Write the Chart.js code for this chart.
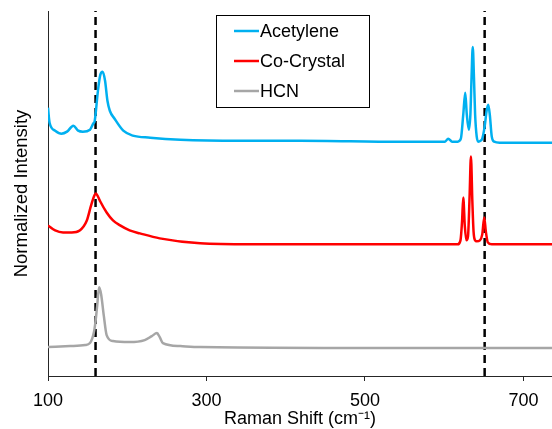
<!DOCTYPE html>
<html>
<head>
<meta charset="utf-8">
<script src="https://cdn.jsdelivr.net/npm/chart.js@4"></script>
<style>
  html, body { margin: 0; padding: 0; background: #fff; }
  #wrap { width: 552px; height: 429px; }
</style>
</head>
<body>
<div id="wrap"><canvas id="ramanChart" width="552" height="429"></canvas></div>
<script>
// spectra (x: Raman shift in cm-1, y: normalized intensity, arbitrary units)
const acetyleneX = [100,102,109,117,124,132,138,144,153,157,159,163,166,169,172,175,178,184,195,207,229,267,342,418,544,582,601,605,610,617,621,624,626.5,628.5,631,633,634.5,636,637.5,639,641,643,646,648,651,653.5,655.5,657.5,660,663,670,736];
const acetyleneY = [269,254,246,243,245,251,246,245,247,253,256,286,302,305,296,276,266,258,246,241,239,237,236,236,235,235,235,238,235,235,238,262,284,262,247,262,300,330,300,262,240,235,236,238,250,266,272,262,240,235,234,234];

const cocrystalX = [100,109,119,130,140,149,154,158,160.5,163,166,174,182,191,203,216,241,292,355,544,617,620.5,622.5,624,626,628,630,632,633.7,635.5,637,639,641,645,648,650.5,652.5,655,660,736];
const cocrystalY = [151,146,144,144,146,156,170,180,183,180,175,164,156,151,146,143,138,133,132,132,132,136,155,179,150,136,140,180,220,175,145,136,135,136,142,159,145,134,132,132];

const hcnX = [100,128,147,153,158,160,162,164.5,167,170.5,174,182,203,222,231,237.5,241,245,267,292,544,736];
const hcnY = [29,30,31,33,44,55,70,89,82,60,41,35,34,36,40,43,39,33,30,29,28,28];

const seriesNames = ["Acetylene", "Co-Crystal", "HCN"];
const seriesColors = ["#00B0F0", "#FF0000", "#A6A6A6"];
const refLines = [160, 651];
const xTicks = [100, 300, 500, 700];

const yMax = 366;

function toPoints(xs, ys) {
    return xs.map(function (x, i) { return { x: x, y: ys[i] }; });
}

const datasets = [
    { label: seriesNames[0], data: toPoints(acetyleneX, acetyleneY), borderColor: seriesColors[0] },
    { label: seriesNames[1], data: toPoints(cocrystalX, cocrystalY), borderColor: seriesColors[1] },
    { label: seriesNames[2], data: toPoints(hcnX, hcnY), borderColor: seriesColors[2] }
].map(function (d) {
    d.borderWidth = 2.5;
    d.pointRadius = 0;
    d.cubicInterpolationMode = "monotone";
    d.fill = false;
    return d;
});

refLines.forEach(function (x) {
    datasets.push({
        label: "",
        data: [{ x: x, y: 0 }, { x: x, y: yMax }],
        borderColor: "#000",
        borderWidth: 2.5,
        borderDash: [8, 5],
        pointRadius: 0
    });
});

// legend box drawn inside the plot area
const boxLegend = {
    id: "boxLegend",
    afterDraw: function (chart) {
        const ctx = chart.ctx;
        const left = 216, top = 15, w = 153, h = 92;
        ctx.save();
        ctx.fillStyle = "#fff";
        ctx.fillRect(left, top, w, h);
        ctx.strokeStyle = "#000";
        ctx.lineWidth = 1;
        ctx.strokeRect(left + 0.5, top + 0.5, w, h);
        ctx.font = "18px 'Liberation Sans', Arial, sans-serif";
        ctx.textBaseline = "middle";
        seriesNames.forEach(function (name, i) {
            const y = 31 + i * 30;
            ctx.strokeStyle = seriesColors[i];
            ctx.lineWidth = 2.5;
            ctx.beginPath();
            ctx.moveTo(234, y);
            ctx.lineTo(259, y);
            ctx.stroke();
            ctx.fillStyle = "#000";
            ctx.fillText(name, 260, y + 1);
        });
        ctx.restore();
    }
};

const tickFont = { family: "'Liberation Sans', Arial, sans-serif", size: 18 };

new Chart(document.getElementById("ramanChart").getContext("2d"), {
    type: "line",
    data: { datasets: datasets },
    options: {
        responsive: false,
        animation: false,
        layout: { padding: { top: 11, right: 0, left: 0, bottom: 0 } },
        plugins: {
            legend: { display: false },
            tooltip: { enabled: false }
        },
        scales: {
            x: {
                type: "linear",
                min: 100,
                max: 736,
                afterBuildTicks: function (axis) {
                    axis.ticks = xTicks.map(function (v) { return { value: v }; });
                },
                afterFit: function (axis) { axis.height = 53; },
                grid: { display: true, drawOnChartArea: false, tickLength: 5, color: "#262626" },
                border: { display: true, color: "#262626", width: 1 },
                ticks: { color: "#000", font: tickFont, padding: 9, maxRotation: 0 },
                title: {
                    display: true,
                    text: "Raman Shift (cm\u207B\u00B9)",
                    color: "#000",
                    font: tickFont,
                    padding: { top: 0, bottom: -1 }
                }
            },
            y: {
                min: 0,
                max: yMax,
                afterFit: function (axis) { axis.width = 48; },
                grid: { display: false },
                border: { display: true, color: "#262626", width: 1 },
                ticks: { display: false },
                title: {
                    display: true,
                    text: "Normalized Intensity",
                    color: "#000",
                    font: { family: "'Liberation Sans', Arial, sans-serif", size: 18.5 },
                    padding: { top: 11, bottom: 0 }
                }
            }
        }
    },
    plugins: [boxLegend]
});
</script>
</body>
</html>
